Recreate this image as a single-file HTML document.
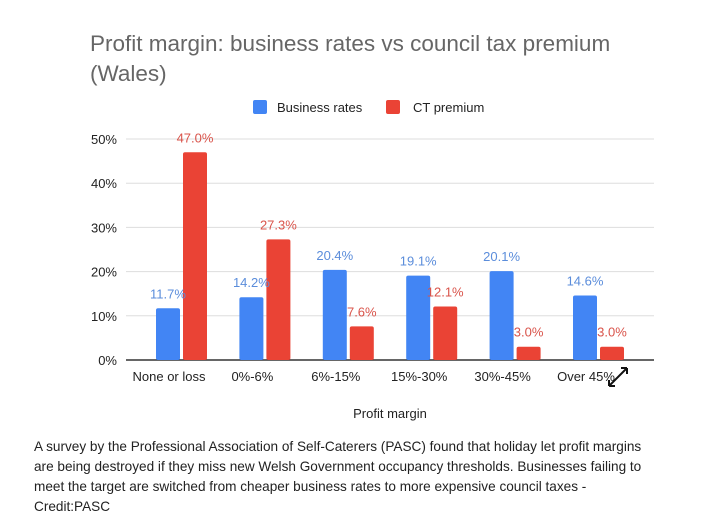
<!DOCTYPE html>
<html><head><meta charset="utf-8"><style>
body{margin:0;background:#fff;width:704px;height:524px;overflow:hidden;font-family:"Liberation Sans",sans-serif}
#cap{position:absolute;left:34px;top:437px;width:680px;font-size:13.6px;line-height:20px;color:#222;white-space:nowrap}
</style></head><body>
<svg width="704" height="430" style="position:absolute;left:0;top:0" font-family="Liberation Sans, sans-serif">
<text x="90" y="51" font-size="22.5" fill="#666">Profit margin: business rates vs council tax premium</text>
<text x="90" y="81" font-size="22.5" fill="#666">(Wales)</text>
<rect x="253" y="100" width="14" height="14" rx="2" fill="#4285f4"/>
<text x="277" y="112" font-size="13" fill="#222">Business rates</text>
<rect x="386" y="100" width="14" height="14" rx="2" fill="#ea4335"/>
<text x="413" y="112" font-size="13" fill="#222">CT premium</text>
<g id="grid"></g><g id="bars"></g>
<text x="390" y="418" font-size="13" fill="#222" text-anchor="middle">Profit margin</text>
<g stroke="#111" stroke-width="2" fill="none">
<path d="M609 386 L627 368 M609 386 h6 M609 386 v-6 M627 368 h-6 M627 368 v6"/></g>
</svg>
<div id="cap">A survey by the Professional Association of Self-Caterers (PASC) found that holiday let profit margins<br>are being destroyed if they miss new Welsh Government occupancy thresholds. Businesses failing to<br>meet the target are switched from cheaper business rates to more expensive council taxes -<br>Credit:PASC</div>
<script>
const categories=["None or loss","0%-6%","6%-15%","15%-30%","30%-45%","Over 45%"];
const business=[11.7,14.2,20.4,19.1,20.1,14.6];
const ctPremium=[47.0,27.3,7.6,12.1,3.0,3.0];
const ticks=[0,10,20,30,40,50];
const NS="http://www.w3.org/2000/svg";
const y=v=>360-v*4.42, x=i=>181+i*83.4;
function mk(t,a,p){const e=document.createElementNS(NS,t);for(const k in a)e.setAttribute(k,a[k]);p.appendChild(e);return e;}
const g=document.getElementById('grid'),b=document.getElementById('bars');
ticks.forEach(t=>{
 const l=mk('line',{x1:126,x2:654,y1:y(t),y2:y(t),stroke:t?'#ddd':'#333','stroke-width':t?1:1.5},g);
 
 
 const tx=mk('text',{x:117,y:y(t)+5,'font-size':13,fill:'#222','text-anchor':'end'},g);tx.textContent=t+'%';
 
 
});
categories.forEach((c,i)=>{
 const cx=x(i);
 const r1=mk('rect',{x:cx-25,y:y(business[i]),width:24,height:business[i]*4.42,rx:2,fill:'#4285f4'},b);
 
 
 const r2=mk('rect',{x:cx+2,y:y(ctPremium[i]),width:24,height:ctPremium[i]*4.42,rx:2,fill:'#ea4335'},b);
 
 
 const l1=mk('text',{x:cx-13,y:y(business[i])-10,'font-size':13,fill:'#5b8ddb','text-anchor':'middle'},b);l1.textContent=business[i].toFixed(1)+'%';
 
 
 const l2=mk('text',{x:cx+14,y:y(ctPremium[i])-10,'font-size':13,fill:'#d9534a','text-anchor':'middle'},b);l2.textContent=ctPremium[i].toFixed(1)+'%';
 
 
 const xl=mk('text',{x:cx-12,y:381,'font-size':13,fill:'#222','text-anchor':'middle'},b);xl.textContent=c;
 
 
});
</script>
</body></html>
